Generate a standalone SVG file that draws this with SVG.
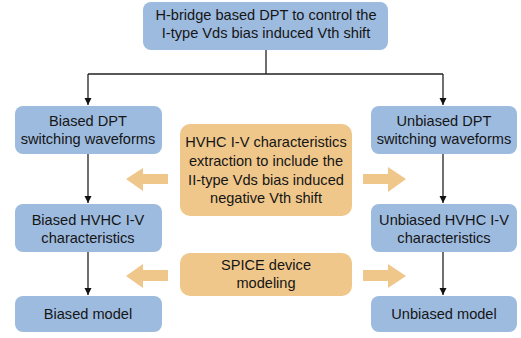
<svg xmlns="http://www.w3.org/2000/svg" width="521" height="338" viewBox="0 0 521 338">
<defs>
<style>
.b{fill:#9dbbdf;}
.o{fill:#efc78b;}
text{font-family:"Liberation Sans",Arial,sans-serif;font-size:14.6px;fill:#151515;text-anchor:middle;}
.c{fill:none;stroke:#222;stroke-width:1.3;}
.fa{fill:#efc78b;}
</style>
<marker id="ah" viewBox="0 0 10 10" refX="10" refY="5" markerWidth="7" markerHeight="8" markerUnits="userSpaceOnUse" orient="auto"><path d="M0,0 L10,5 L0,10 Z" fill="#111"/></marker>
</defs>
<g id="connectors">
<path class="c" d="M266,50 V74 M88,74 H443" />
<path class="c" d="M88,74 V105" marker-end="url(#ah)"/>
<path class="c" d="M443,74 V105" marker-end="url(#ah)"/>
<path class="c" d="M88,154 V203" marker-end="url(#ah)"/>
<path class="c" d="M443,154 V203" marker-end="url(#ah)"/>
<path class="c" d="M88,252 V295" marker-end="url(#ah)"/>
<path class="c" d="M443,252 V295" marker-end="url(#ah)"/>
<polygon class="fa" points="126,179 143,168 143,174 168,174 168,184 143,184 143,191"/>
<polygon class="fa" points="406,179 388,167 388,174 363,174 363,184 388,184 388,192"/>
<polygon class="fa" points="126,276 143,264 143,270 168,270 168,281 143,281 143,288"/>
<polygon class="fa" points="406,276 388,264 388,270 363,270 363,281 388,281 388,288"/>
</g>
<g id="top"><rect class="b" x="143" y="2" width="245" height="48" rx="8"/><text x="266" y="20">H-bridge based DPT to control the</text><text x="266" y="38">I-type Vds bias induced Vth shift</text></g>
<g id="biased-dpt"><rect class="b" x="15" y="106" width="147" height="48" rx="8"/><text x="88" y="126">Biased DPT</text><text x="88" y="143.5">switching waveforms</text></g>
<g id="unbiased-dpt"><rect class="b" x="371" y="106" width="146" height="48" rx="8"/><text x="444" y="126">Unbiased DPT</text><text x="444" y="143.5">switching waveforms</text></g>
<g id="hvhc-extraction"><rect class="o" x="180" y="124" width="172" height="92" rx="10"/><text x="266" y="147">HVHC I-V characteristics</text><text x="266" y="166">extraction to include the</text><text x="266" y="185">II-type Vds bias induced</text><text x="266" y="203">negative Vth shift</text></g>
<g id="biased-iv"><rect class="b" x="15" y="204" width="147" height="48" rx="8"/><text x="88" y="225">Biased HVHC I-V</text><text x="88" y="243">characteristics</text></g>
<g id="unbiased-iv"><rect class="b" x="371" y="204" width="146" height="48" rx="8"/><text x="444" y="225">Unbiased HVHC I-V</text><text x="444" y="243">characteristics</text></g>
<g id="spice"><rect class="o" x="180" y="253" width="172" height="43" rx="10"/><text x="266" y="270">SPICE device</text><text x="266" y="288">modeling</text></g>
<g id="biased-model"><rect class="b" x="15" y="296" width="147" height="36" rx="8"/><text x="88" y="318.5">Biased model</text></g>
<g id="unbiased-model"><rect class="b" x="371" y="296" width="146" height="36" rx="8"/><text x="444" y="318.5">Unbiased model</text></g>
</svg>
